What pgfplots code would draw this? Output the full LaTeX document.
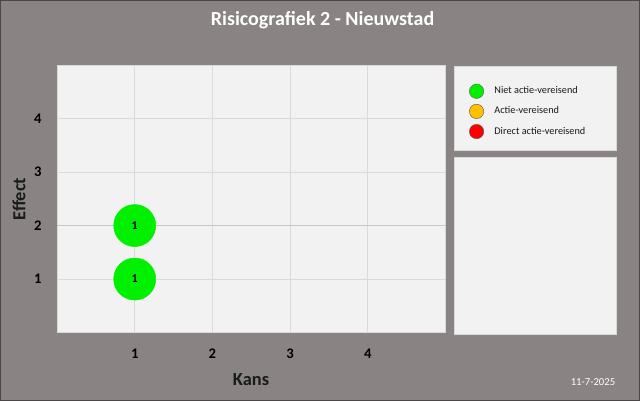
\documentclass[border=0pt]{standalone}
\usepackage{fontspec}
\setmainfont{Carlito}
\usepackage{pgfplots}
\pgfplotsset{compat=1.18}

\definecolor{bgpanel}{HTML}{898383}
\definecolor{frame}{HTML}{4A4848}
\definecolor{paper}{HTML}{F2F2F2}
\definecolor{panelline}{HTML}{D9D9D9}
\definecolor{gridlight}{HTML}{DADADA}
\definecolor{gridmid}{HTML}{C8C8C8}
\definecolor{griddark}{HTML}{A6A6A6}
\definecolor{niet}{HTML}{00F000}
\definecolor{actie}{HTML}{FFC000}
\definecolor{direct}{HTML}{FF0000}
\definecolor{legline}{HTML}{595959}
\definecolor{labeltext}{HTML}{1A1A1A}

\begin{document}
\begin{tikzpicture}
% canvas and side panels
\fill[bgpanel] (0,0) rectangle (480pt,-300.75pt);
\draw[frame, line width=1pt] (0.5pt,-0.5pt) rectangle (479.5pt,-300.25pt);
\filldraw[fill=paper, draw=panelline] (340.5pt,-49.5pt) rectangle (462pt,-112.5pt);
\filldraw[fill=paper, draw=panelline] (340.5pt,-117.75pt) rectangle (462pt,-250.5pt);

\begin{axis}[at={(42.75pt,-249.4pt)}, anchor=south west,
  scale only axis, width=291.5pt, height=200.6pt,
  xmin=0, xmax=5, ymin=0, ymax=5,
  xtick={1,2,3,4}, ytick={1,2,3,4},
  major tick length=0pt,
  axis background/.style={fill=paper},
  axis line style={draw=panelline},
  grid=major, major grid style={draw=gridlight, line width=0.8pt},
  extra y ticks={4}, extra y tick labels={},
  extra y tick style={grid style={draw=griddark, line width=0.9pt}},
  ticklabel style={font=\fontsize{11}{13}\selectfont\bfseries, text=black},
  /pgf/number format/assume math mode=true,
  xticklabel style={yshift=-9pt},
  yticklabel style={xshift=-8pt},
  legend style={at={(1.050,0.940)}, anchor=north west, draw=none, fill=none,
    font=\fontsize{7.7}{9}\selectfont, text=labeltext, row sep=4.25pt,
    /tikz/every odd column/.append style={column sep=6pt}},
  legend cell align=left]

\draw[gridmid, line width=0.9pt] (axis cs:0,2) -- (axis cs:5,2);

\addplot[niet, only marks, mark=*, mark size=15.75pt, mark options={draw=niet, fill=niet},
  nodes near coords, point meta=explicit symbolic,
  nodes near coords style={anchor=center, font=\fontsize{9}{10}\selectfont\bfseries, text=black},
  forget plot] coordinates {(1,1) [1] (1,2) [1]};

\addlegendimage{only marks, mark=*, mark size=5.4pt, mark options={fill=niet, draw=legline, line width=0.3pt}}
\addlegendentry{Niet actie-vereisend}
\addlegendimage{only marks, mark=*, mark size=5.4pt, mark options={fill=actie, draw=legline, line width=0.3pt}}
\addlegendentry{Actie-vereisend}
\addlegendimage{only marks, mark=*, mark size=5.4pt, mark options={fill=direct, draw=legline, line width=0.3pt}}
\addlegendentry{Direct actie-vereisend}
\end{axis}

\node[white, font=\fontsize{15}{18}\selectfont\bfseries] at (241.9pt,-15pt) {Risicografiek 2 - Nieuwstad};
\node[text=labeltext, font=\fontsize{13.8}{16}\selectfont\bfseries] at (188.25pt,-285pt) {Kans};
\node[text=labeltext, rotate=90, font=\fontsize{13.8}{16}\selectfont\bfseries] at (14.25pt,-149.25pt) {Effect};
\node[white, font=\fontsize{8}{9}\selectfont] at (444.75pt,-286.5pt) {11-7-2025};
\end{tikzpicture}
\end{document}
